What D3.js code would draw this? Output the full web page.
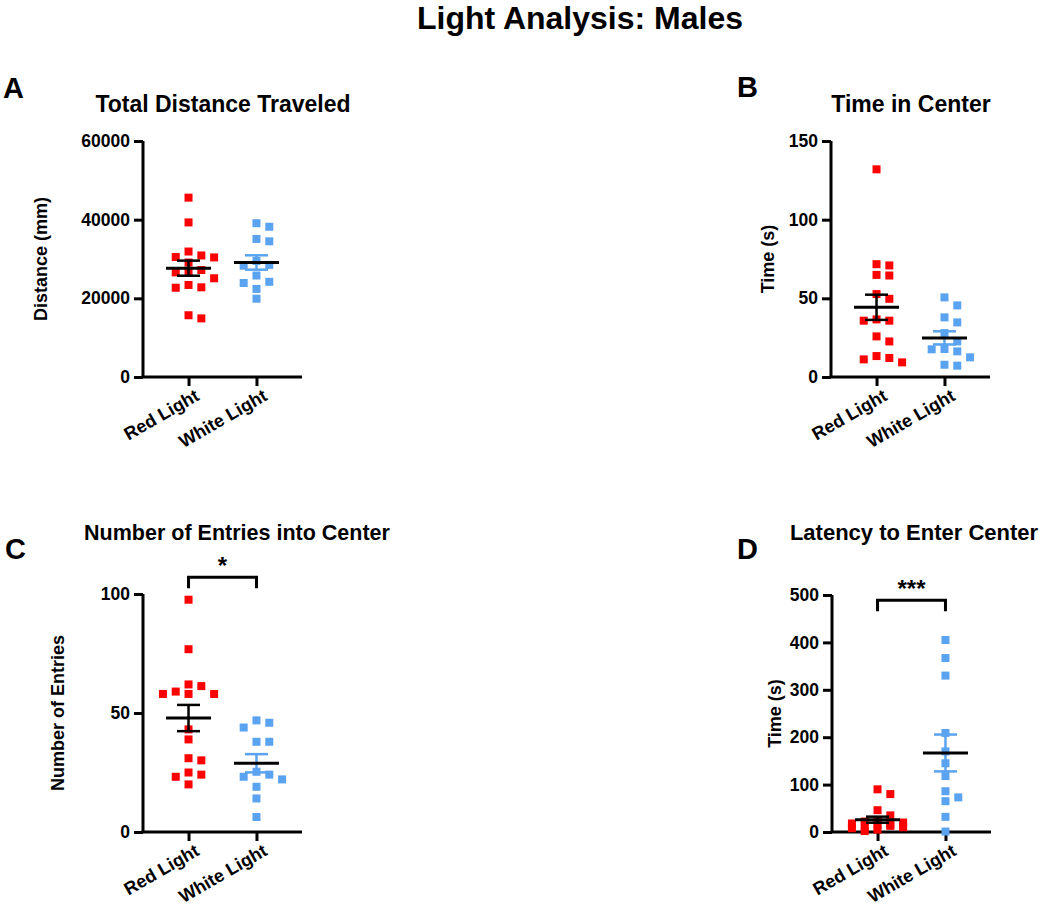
<!DOCTYPE html>
<html><head><meta charset="utf-8">
<script src="https://cdn.jsdelivr.net/npm/d3@7"></script>
<style>
body{margin:0;background:#fff;}
text{font-family:"Liberation Sans",Arial,sans-serif;font-weight:bold;fill:#000;}
</style></head>
<body><svg id="chart" width="1047" height="906"></svg>
<script>
// ---------- data ----------
const categories = ["Red Light", "White Light"];
const figureTitle = "Light Analysis: Males";

const distanceRed = [45600, 39300, 31900, 30400, 30900, 30500, 29100, 27200, 26600, 26600, 25100, 22800, 22700, 23400, 15700, 14900];
const distanceWhite = [39100, 38200, 34500, 35100, 29500, 28300, 28500, 25800, 24200, 23900, 22400, 19900];

const centerTimeRed = [132.0, 71.7, 70.9, 64.9, 64.5, 52.7, 49.7, 35.8, 35.8, 36.6, 22.6, 25.8, 13.3, 11.2, 12.1, 9.3];
const centerTimeWhite = [50.6, 45.5, 37.9, 34.7, 27.9, 22.6, 17.8, 17.6, 16.3, 12.5, 7.2, 7.8];

const entriesRed = [97.6, 76.8, 59.0, 61.3, 58.0, 62.0, 58.0, 58.0, 43.1, 38.9, 30.1, 31.0, 25.0, 24.1, 23.2, 20.0];
const entriesWhite = [46.9, 45.9, 43.9, 37.9, 37.9, 25.3, 23.2, 22.1, 24.1, 19.0, 14.1, 6.3];

const latencyRed = [90, 80, 46, 35, 24, 22, 20, 18, 16, 15, 13, 12, 10, 8, 5, 2];
const latencyWhite = [405, 367, 330, 209, 170, 145, 118, 86, 65, 73, 32, 1];

const panelLetters = ["A", "B", "C", "D"];
const panelTitles = ["Total Distance Traveled", "Time in Center", "Number of Entries into Center", "Latency to Enter Center"];
const yLabels = ["Distance (mm)", "Time (s)", "Number of Entries", "Time (s)"];
const yDomains = [[0, 60000], [0, 150], [0, 100], [0, 500]];
const yTicks = [[0, 20000, 40000, 60000], [0, 50, 100, 150], [0, 50, 100], [0, 100, 200, 300, 400, 500]];
const sigLabels = [null, null, "*", "***"];
const sigBracketY = [null, null, 107, 489];

const seriesByPanel = [
  [distanceRed, distanceWhite],
  [centerTimeRed, centerTimeWhite],
  [entriesRed, entriesWhite],
  [latencyRed, latencyWhite]
];

// ---------- layout ----------
const layout = [
  {x0: 143, x1: 302, yTop: 141, yBot: 377, letter: [3, 98], titleX: 223, titleY: 112, titleSize: 23, yLabX: 41},
  {x0: 831, x1: 990, yTop: 141, yBot: 377, letter: [737, 97], titleX: 911, titleY: 112, titleSize: 23, yLabX: 768},
  {x0: 143, x1: 302, yTop: 594, yBot: 832, letter: [5, 559], titleX: 237, titleY: 540, titleSize: 21.5, yLabX: 58},
  {x0: 832, x1: 991, yTop: 595, yBot: 832, letter: [737, 559], titleX: 914, titleY: 540, titleSize: 22, yLabX: 775}
];
const colors = ["#ff0000", "#5aa3f0"];
const errColors = ["#000", "#5aa3f0"];
const markerSize = 8;

const svg = d3.select("#chart");

svg.append("text").attr("x", 580).attr("y", 29).attr("text-anchor", "middle")
  .style("font-size", "32px").text(figureTitle);

function swarm(values, yScale) {
  const step = 6.4, dyLim = 8.5, dxLim = 12, maxK = 4;
  const order = values.map((v, i) => i).sort((a, b) => values[b] - values[a]);
  const placed = [];
  const offs = new Array(values.length);
  const cands = [0];
  for (let k = 1; k <= maxK; k++) { cands.push(k * step, -k * step); }
  order.forEach(i => {
    const y = yScale(values[i]);
    let best = 0, bestC = Infinity;
    for (const c of cands) {
      let col = 0;
      for (const p of placed) {
        if (Math.abs(p.y - y) < dyLim && Math.abs(p.x - c) < dxLim) col++;
      }
      if (col === 0) { best = c; bestC = 0; break; }
      if (col < bestC) { bestC = col; best = c; }
    }
    offs[i] = best;
    placed.push({x: best, y});
  });
  return offs;
}

layout.forEach((L, pi) => {
  const g = svg.append("g");
  const y = d3.scaleLinear().domain(yDomains[pi]).range([L.yBot, L.yTop]);
  const x = d3.scalePoint().domain(categories).range([L.x0, L.x1]).padding(0.67);

  // letter & title
  g.append("text").attr("x", L.letter[0]).attr("y", L.letter[1]).style("font-size", "29px").text(panelLetters[pi]);
  g.append("text").attr("x", L.titleX).attr("y", L.titleY).attr("text-anchor", "middle")
    .style("font-size", L.titleSize + "px").text(panelTitles[pi]);

  // y axis
  const ya = g.append("g").attr("transform", `translate(${L.x0},0)`)
    .call(d3.axisLeft(y).tickValues(yTicks[pi]).tickSize(9).tickPadding(4).tickFormat(d3.format("d")));
  ya.select(".domain").attr("stroke", "#000").attr("stroke-width", 3).attr("d", `M0,${L.yTop}V${L.yBot}`);
  ya.selectAll(".tick line").attr("stroke", "#000").attr("stroke-width", 3);
  ya.selectAll(".tick text").style("font-size", "17.5px").style("font-family", "Liberation Sans, Arial, sans-serif").style("font-weight", "bold");

  // x axis
  const xa = g.append("g").attr("transform", `translate(0,${L.yBot})`)
    .call(d3.axisBottom(x).tickSize(9).tickSizeOuter(0));
  xa.select(".domain").attr("stroke", "#000").attr("stroke-width", 3).attr("d", `M${L.x0 - 1.5},0H${L.x1}`);
  xa.selectAll(".tick line").attr("stroke", "#000").attr("stroke-width", 3);
  xa.selectAll(".tick text").style("font-size", "18px").style("font-family", "Liberation Sans, Arial, sans-serif").style("font-weight", "bold")
    .attr("text-anchor", "end").attr("transform", "translate(6,13) rotate(-30)").attr("dy", "0.6em").attr("y", 0);

  // y label
  g.append("text").attr("transform", `translate(${L.yLabX},${(L.yTop + L.yBot) / 2}) rotate(-90)`)
    .attr("text-anchor", "middle").attr("dy", "0.35em").style("font-size", "18px").text(yLabels[pi]);

  // points
  seriesByPanel[pi].forEach((vals, si) => {
    const cx = x(categories[si]);
    const offs = swarm(vals, y);
    g.append("g").selectAll("rect").data(vals).join("rect")
      .attr("x", (d, i) => cx + offs[i] - markerSize / 2)
      .attr("y", d => y(d) - markerSize / 2)
      .attr("width", markerSize).attr("height", markerSize)
      .attr("fill", colors[si]);
  });

  // mean & SEM
  seriesByPanel[pi].forEach((vals, si) => {
    const cx = x(categories[si]);
    const m = d3.mean(vals);
    const sem = d3.deviation(vals) / Math.sqrt(vals.length);
    const eg = g.append("g");
    eg.append("line").attr("x1", cx).attr("x2", cx).attr("y1", y(m - sem)).attr("y2", y(m + sem))
      .attr("stroke", errColors[si]).attr("stroke-width", 2.5);
    [m - sem, m + sem].forEach(v => {
      eg.append("line").attr("x1", cx - 11.5).attr("x2", cx + 11.5).attr("y1", y(v)).attr("y2", y(v))
        .attr("stroke", errColors[si]).attr("stroke-width", 2.5);
    });
    eg.append("line").attr("x1", cx - 22.5).attr("x2", cx + 22.5).attr("y1", y(m)).attr("y2", y(m))
      .attr("stroke", "#000").attr("stroke-width", 3);
  });

  // significance
  if (sigLabels[pi]) {
    const by = y(sigBracketY[pi]);
    const xa1 = x(categories[0]), xa2 = x(categories[1]);
    g.append("path").attr("d", `M${xa1},${by + 11}V${by}H${xa2}V${by + 11}`)
      .attr("fill", "none").attr("stroke", "#000").attr("stroke-width", 3);
    g.append("text").attr("x", (xa1 + xa2) / 2).attr("y", by - 3).attr("text-anchor", "middle")
      .style("font-size", "24px").text(sigLabels[pi]);
  }
});
</script></body></html>
